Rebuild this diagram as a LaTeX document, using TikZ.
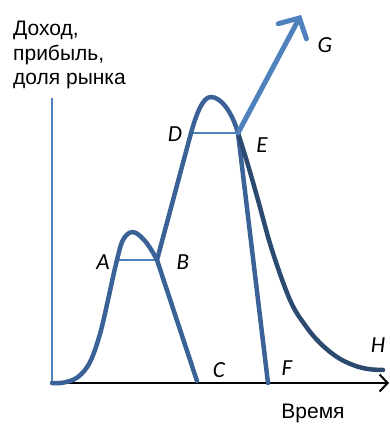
\documentclass[tikz,border=0pt]{standalone}
\usepackage{fontspec}
\setmainfont{Liberation Sans}
\newfontfamily\lblfont{Carlito}
\usetikzlibrary{arrows.meta}
\definecolor{curveblue}{HTML}{3B6296}
\definecolor{darkcurve}{HTML}{2C4A70}
\definecolor{lightblue}{HTML}{4F81BD}
\tikzset{
  curve/.style={draw=curveblue, line width=4.5pt, line cap=round, line join=round},
  darkcurve/.style={draw=darkcurve, line width=4.5pt, line cap=round},
  level/.style={draw=lightblue, line width=1.6pt},
  lbl/.style={font=\lblfont\itshape\fontsize{23}{25}\selectfont, inner sep=0pt},
}
\begin{document}
\begin{tikzpicture}[x=1pt,y=-1pt]
\useasboundingbox (0,0) rectangle (390,424);
% coordinates
\coordinate (O) at (52,383);
\coordinate (Ytop) at (52,98);
\coordinate (Xend) at (389,383);
\coordinate (A) at (117,260);
\coordinate (B) at (157,260);
\coordinate (C) at (197,381);
\coordinate (D) at (191,133);
\coordinate (E) at (238,133);
\coordinate (F) at (268,383);
\coordinate (G) at (301,15);
\coordinate (H) at (383,370);
% axes
\draw[draw=lightblue, line width=1.6pt] (O) -- (Ytop);
\draw[line width=2pt, -{Straight Barb[length=8pt,width=17pt]}] (O) -- (Xend);
% level lines
\draw[level] (A) -- (B);
\draw[level] (D) -- (E);
% first curve
\draw[curve] plot[smooth, tension=0.6] coordinates {(52,383) (64,382.5) (78,377) (90,362) (100,334) (108,300) (113,277) (117,260) (122,242) (129,233) (136,233) (145,241) (152,251) (157,260)} -- (C);
% second curve
\draw[curve] (B) -- (D) .. controls (197,112) and (203,97) .. (211,97) .. controls (221,97) and (232,112) .. (E) -- (F);
% decline curve
\draw[darkcurve] plot[smooth, tension=0.6] coordinates {(E) (248,165) (258,200) (272,250) (290,300) (305,325) (320,343) (337,357) (353,365) (368,369) (H)};
% arrow G
\draw[draw=lightblue, line width=5pt, line cap=round, -{Straight Barb[length=15pt,width=32pt,line cap=round]}] (E) -- (G);
% labels
\node[lbl] (lA) at (103,262) {A};
\node[lbl] (lB) at (183,262) {B};
\node[lbl] (lC) at (219,370) {C};
\node[lbl] (lD) at (175,134) {D};
\node[lbl] (lE) at (262,145) {E};
\node[lbl] (lF) at (287,368) {F};
\node[lbl] (lG) at (325,45) {G};
\node[lbl] (lH) at (378,345) {H};
\node[anchor=north west, align=left, inner sep=0pt, font=\fontsize{21}{24.5}\selectfont] (ylab) at (13,21) {Доход,\\прибыль,\\доля рынка};
\node[inner sep=0pt, font=\fontsize{21}{22}\selectfont] (xlab) at (313,413) {Время};
\end{tikzpicture}
\end{document}
